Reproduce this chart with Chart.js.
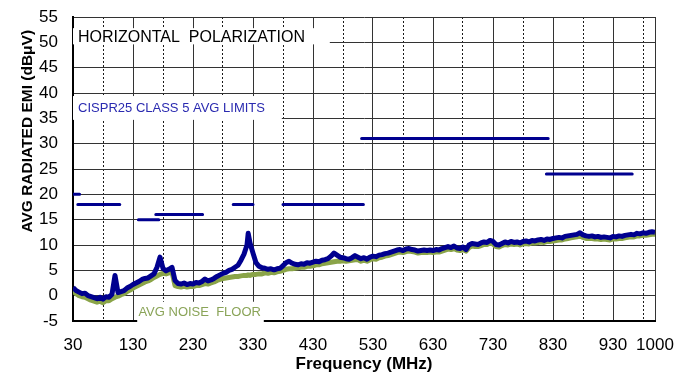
<!DOCTYPE html>
<html lang="en">
<head>
<meta charset="UTF-8">
<title>AVG Radiated EMI - Horizontal Polarization</title>
<script src="https://cdn.jsdelivr.net/npm/chart.js"></script>
<style>
  body { margin: 0; background: #fff; }
  #wrap { width: 689px; height: 373px; }
</style>
</head>
<body>
<div id="wrap"><canvas id="emiChart" width="689" height="373"></canvas></div>
<script>
// frequency points (MHz)
const freq = [
  30, 35, 40, 45, 50, 55, 60, 65, 70, 75,
  80, 85, 90, 95, 100, 105, 110, 115, 120, 125,
  130, 135, 140, 145, 150, 155, 160, 165, 170, 175,
  180, 185, 190, 195, 200, 205, 210, 215, 220, 225,
  230, 235, 240, 245, 250, 255, 260, 265, 270, 275,
  280, 285, 290, 295, 300, 305, 310, 315, 320, 322, 325,
  330, 335, 340, 345, 350, 355, 360, 365, 370, 375,
  380, 385, 390, 395, 400, 405, 410, 415, 420, 425,
  430, 435, 440, 445, 450, 455, 460, 465, 470, 475,
  480, 485, 490, 495, 500, 505, 510, 515, 520, 525,
  530, 535, 540, 545, 550, 555, 560, 565, 570, 575,
  580, 585, 590, 595, 600, 605, 610, 615, 620, 625,
  630, 635, 640, 645, 650, 655, 660, 665, 670, 675,
  680, 685, 690, 695, 700, 705, 710, 715, 720, 725,
  730, 735, 740, 745, 750, 755, 760, 765, 770, 775,
  780, 785, 790, 795, 800, 805, 810, 815, 820, 825,
  830, 835, 840, 845, 850, 855, 860, 865, 870, 875,
  880, 885, 890, 895, 900, 905, 910, 915, 920, 925,
  930, 935, 940, 945, 950, 955, 960, 965, 970, 975,
  980, 985, 990, 995, 1000
];

// measured average radiated EMI (dBuV)
const emiAvg = [
  1.6, 1.0, 0.7, 0.4, 0.5, 0.0, -0.2, -0.4, -0.6, -0.3,
  -0.7, -0.2, -0.3, 0.3, 4.0, 0.6, 0.8, 1.0, 1.5, 1.8,
  2.2, 2.5, 2.8, 3.2, 3.4, 3.5, 3.9, 4.3, 5.6, 7.6,
  5.4, 4.9, 5.2, 5.6, 3.0, 2.4, 2.3, 2.5, 2.2, 2.4,
  2.3, 2.6, 2.5, 2.8, 3.3, 2.9, 3.1, 3.4, 3.8, 4.1,
  4.4, 4.6, 5.0, 5.2, 5.6, 6.0, 7.0, 8.2, 10.0, 12.3, 10.4,
  8.4, 6.5, 5.8, 5.5, 5.4, 5.2, 5.3, 5.1, 5.3, 5.4,
  5.9, 6.5, 6.8, 6.4, 6.2, 6.1, 6.3, 6.2, 6.5, 6.4,
  6.6, 6.8, 6.7, 7.0, 7.1, 7.3, 7.8, 8.4, 8.0, 7.6,
  7.5, 7.3, 7.2, 7.5, 7.9, 7.6, 7.3, 7.5, 7.2, 7.6,
  7.8, 7.7, 8.0, 8.1, 8.3, 8.4, 8.6, 8.8, 9.0, 9.1,
  8.9, 9.2, 9.3, 9.1, 9.0, 8.8, 8.9, 9.0, 8.9, 9.0,
  8.9, 9.1, 9.0, 9.3, 9.5, 9.7, 9.5, 9.8, 9.4, 9.3,
  9.6, 9.1, 10.0, 10.3, 10.2, 10.1, 10.4, 10.6, 10.5, 10.9,
  10.7, 10.1, 10.0, 10.3, 10.6, 10.4, 10.7, 10.5, 10.6, 10.4,
  10.7, 10.8, 10.6, 10.9, 10.8, 11.0, 11.1, 10.9, 11.2, 11.1,
  11.3, 11.4, 11.5, 11.4, 11.7, 11.8, 11.9, 12.0, 12.1, 12.4,
  12.0, 11.8, 11.7, 11.8, 11.6, 11.7, 11.5, 11.6, 11.5, 11.4,
  11.7, 11.6, 11.8, 11.7, 11.9, 12.0, 12.1, 12.0, 12.3, 12.2,
  12.4, 12.3, 12.5, 12.6, 12.5
];

// average noise floor (dBuV)
const noiseFloor = [
  0.9, 0.4, 0.0, -0.2, -0.3, -0.6, -0.9, -1.1, -1.3, -1.1,
  -1.4, -1.0, -1.0, -0.6, -0.3, -0.1, 0.2, 0.4, 0.8, 1.1,
  1.5, 1.8, 2.1, 2.4, 2.7, 2.9, 3.2, 3.6, 3.9, 4.2,
  4.4, 4.3, 4.5, 4.7, 2.0, 1.8, 1.7, 1.9, 1.7, 1.8,
  1.8, 2.0, 2.0, 2.2, 2.4, 2.3, 2.5, 2.7, 3.0, 3.2,
  3.4, 3.5, 3.6, 3.7, 3.8, 3.8, 3.9, 4.0, 4.0, 4.1, 4.0,
  4.2, 4.2, 4.3, 4.3, 4.5, 4.4, 4.6, 4.5, 4.7, 4.8,
  5.0, 5.2, 5.3, 5.3, 5.4, 5.5, 5.6, 5.6, 5.8, 5.8,
  5.9, 6.1, 6.1, 6.3, 6.4, 6.5, 6.6, 6.7, 6.8, 6.8,
  6.9, 6.8, 6.9, 7.0, 7.1, 7.1, 6.8, 7.0, 6.8, 7.1,
  7.3, 7.2, 7.5, 7.6, 7.8, 7.9, 8.1, 8.3, 8.5, 8.6,
  8.5, 8.7, 8.8, 8.7, 8.6, 8.4, 8.5, 8.5, 8.5, 8.6,
  8.5, 8.6, 8.6, 8.8, 9.0, 9.2, 9.1, 9.3, 9.0, 8.9,
  9.1, 8.8, 9.5, 9.8, 9.7, 9.7, 9.9, 10.1, 10.1, 10.4,
  10.2, 9.7, 9.6, 9.9, 10.1, 10.0, 10.2, 10.1, 10.2, 10.0,
  10.2, 10.3, 10.2, 10.4, 10.4, 10.5, 10.6, 10.5, 10.7, 10.7,
  10.8, 10.9, 11.0, 11.0, 11.2, 11.3, 11.4, 11.5, 11.6, 11.8,
  11.5, 11.3, 11.3, 11.3, 11.2, 11.2, 11.1, 11.2, 11.1, 11.0,
  11.2, 11.2, 11.3, 11.3, 11.4, 11.5, 11.6, 11.6, 11.8, 11.8,
  11.9, 11.9, 12.0, 12.1, 12.1
];

// CISPR25 class 5 average limit segments
const limitStart = [30, 38, 139, 168, 297, 380, 511, 819];
const limitEnd   = [41, 108, 173, 246, 330, 514, 822, 962];
const limitLevel = [20, 18, 15, 16, 18, 18, 31, 24];

// x grid positions and the ones that get a label
const xGridValues = [30, 80, 130, 180, 230, 280, 330, 380, 430, 480, 530,
                     580, 630, 680, 730, 780, 830, 880, 930, 980, 1000];
const xLabelValues = [30, 130, 230, 330, 430, 530, 630, 730, 830, 930, 1000];

const FONT = "'Liberation Sans', Arial, sans-serif";
const BLUE = '#00008f';
const GREEN = '#8aa448';

const limitPoints = [];
limitStart.forEach((s, i) => {
  limitPoints.push({x: s, y: limitLevel[i]});
  limitPoints.push({x: limitEnd[i], y: limitLevel[i]});
  limitPoints.push({x: limitEnd[i], y: null});
});

// white boxes with text, like the text boxes of the original plot
const notes = [
  {text: 'HORIZONTAL  POLARIZATION', color: '#000', font: '16px ' + FONT,
   box: [30, 458, 52.8, 49.6], at: [38.3, 50.0]},
  {text: 'CISPR25 CLASS 5 AVG LIMITS', color: '#2a2ab0', font: '13px ' + FONT,
   box: [30, 378, 39.4, 34.7], at: [38.5, 36.3]},
  {text: 'AVG NOISE  FLOOR', color: '#8aa458', font: '13px ' + FONT,
   box: [137, 348, -1.2, -5.5], at: [139, -4.0]}
];

const noteBoxes = {
  id: 'noteBoxes',
  afterDatasetsDraw(chart) {
    const {ctx, scales: {x, y}} = chart;
    ctx.save();
    notes.forEach(n => {
      const x0 = x.getPixelForValue(n.box[0]);
      const x1 = x.getPixelForValue(n.box[1]);
      const y0 = y.getPixelForValue(n.box[2]);
      const y1 = y.getPixelForValue(n.box[3]);
      ctx.fillStyle = '#fff';
      ctx.fillRect(x0, y0, x1 - x0, y1 - y0);
      ctx.font = n.font;
      ctx.fillStyle = n.color;
      ctx.textBaseline = 'alphabetic';
      ctx.textAlign = 'left';
      ctx.fillText(n.text, x.getPixelForValue(n.at[0]), y.getPixelForValue(n.at[1]));
    });
    ctx.restore();
  }
};

new Chart(document.getElementById('emiChart'), {
  type: 'line',
  data: {
    datasets: [
      {
        label: 'CISPR25 CLASS 5 AVG LIMITS',
        data: limitPoints,
        borderColor: BLUE,
        borderWidth: 3,
        borderCapStyle: 'round',
        pointRadius: 0,
        spanGaps: false,
        order: 0
      },
      {
        label: 'AVG EMI',
        data: freq.map((f, i) => ({x: f, y: emiAvg[i]})),
        borderColor: BLUE,
        borderWidth: 5,
        borderJoinStyle: 'round',
        pointRadius: 0,
        order: 1
      },
      {
        label: 'AVG NOISE FLOOR',
        data: freq.map((f, i) => ({x: f, y: noiseFloor[i]})),
        borderColor: GREEN,
        borderWidth: 5,
        borderJoinStyle: 'round',
        pointRadius: 0,
        order: 2
      }
    ]
  },
  options: {
    responsive: false,
    animation: false,
    events: [],
    layout: {padding: {top: 17, right: 34, left: 0, bottom: 0}},
    plugins: {legend: {display: false}, tooltip: {enabled: false}},
    scales: {
      x: {
        type: 'linear',
        min: 30,
        max: 1000,
        afterBuildTicks: axis => { axis.ticks = xGridValues.map(v => ({value: v})); },
        afterFit: axis => { axis.height = 52; },
        ticks: {
          autoSkip: false,
          maxRotation: 0,
          padding: 14,
          color: '#000',
          font: {family: FONT, size: 17},
          callback: v => xLabelValues.includes(v) ? String(v) : ''
        },
        grid: {
          drawTicks: false,
          color: ctx => xLabelValues.includes(ctx.tick && ctx.tick.value) ? '#333' : '#1a1a1a',
          lineWidth: 1
        },
        border: {
          color: '#000',
          width: 2,
          dash: ctx => (ctx.tick && !xLabelValues.includes(ctx.tick.value)) ? [2, 2] : []
        },
        title: {
          display: true,
          text: 'Frequency (MHz)',
          color: '#000',
          font: {family: FONT, size: 17, weight: 'bold', lineHeight: 1},
          padding: {top: 0, bottom: 0}
        }
      },
      y: {
        min: -5,
        max: 55,
        afterFit: axis => {
          axis.width = 73;
          axis.paddingTop = 0;
          axis.paddingBottom = 0;
        },
        ticks: {
          stepSize: 5,
          padding: 15,
          color: '#000',
          font: {family: FONT, size: 17}
        },
        grid: {drawTicks: false, color: '#333', lineWidth: 1},
        border: {color: '#000', width: 2},
        title: {
          display: true,
          text: 'AVG RADIATED EMI (dBμV)   ',
          align: 'end',
          color: '#000',
          font: {family: FONT, size: 15.5, weight: 'bold', lineHeight: 1},
          padding: {top: 20, bottom: 0}
        }
      }
    }
  },
  plugins: [noteBoxes]
});
</script>
</body>
</html>
